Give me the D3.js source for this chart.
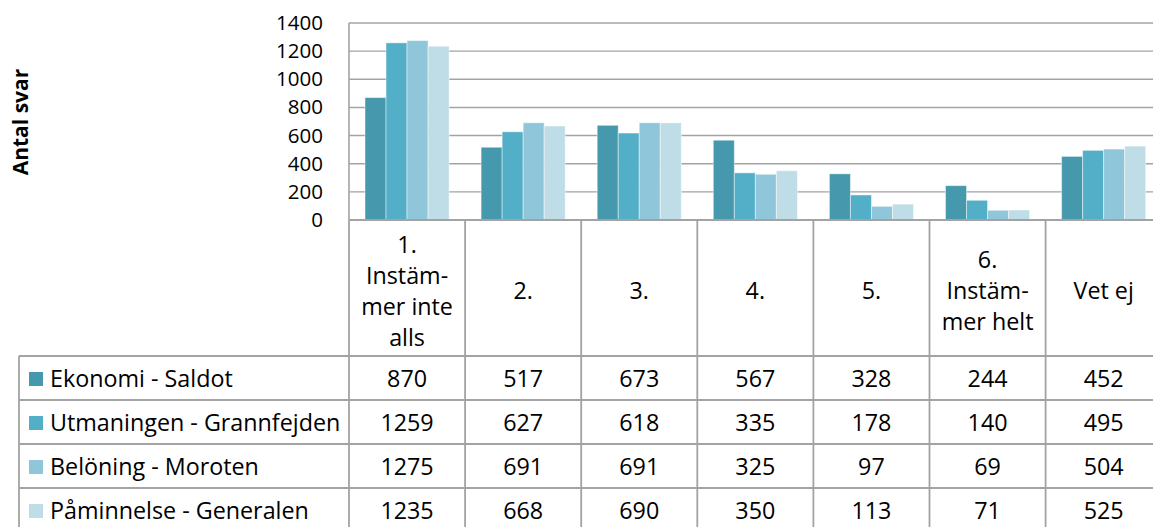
<!DOCTYPE html>
<html>
<head>
<meta charset="utf-8">
<script src="https://cdn.jsdelivr.net/npm/d3@7/dist/d3.min.js"></script>
<style>
  html, body { margin: 0; padding: 0; background: #fff; }
  svg { display: block; }
  text { font-family: "Open Sans", "Liberation Sans", sans-serif; fill: #000; }
</style>
</head>
<body>
<svg id="chart" width="1153" height="527"></svg>
<script>
// Answer categories (each entry is the wrapped label lines)
const categories = [
  ["1.", "Instäm-", "mer inte", "alls"],
  ["2."],
  ["3."],
  ["4."],
  ["5."],
  ["6.", "Instäm-", "mer helt"],
  ["Vet ej"]
];
const seriesNames = [
  "Ekonomi - Saldot",
  "Utmaningen - Grannfejden",
  "Belöning - Moroten",
  "Påminnelse - Generalen"
];
const ekonomiSaldot         = [870, 517, 673, 567, 328, 244, 452];
const utmaningenGrannfejden = [1259, 627, 618, 335, 178, 140, 495];
const beloningMoroten       = [1275, 691, 691, 325, 97, 69, 504];
const paminnelseGeneralen   = [1235, 668, 690, 350, 113, 71, 525];
const yTicks = [0, 200, 400, 600, 800, 1000, 1200, 1400];
const colors = ["#4698AC", "#53AFC7", "#8FC6D9", "#BFDDE7"];
const yTitle = "Antal svar";

const seriesValues = [ekonomiSaldot, utmaningenGrannfejden, beloningMoroten, paminnelseGeneralen];

const svg = d3.select("#chart");
const W = 1153;
const plotLeft = 349, colW = 116.1, plotTop = 23, plotBottom = 220;
const tableLeft = 19, headerBottom = 356, rowH = 44;
const gridColor = "#A3A3A3";
const fontSize = 23.3;
const tickFontSize = 20.5;

const x = d3.scaleBand().domain(d3.range(categories.length))
  .range([plotLeft, plotLeft + colW * categories.length]).padding(0);
const xInner = d3.scaleBand().domain(d3.range(seriesValues.length))
  .range([16, colW - 16]).padding(0);
const y = d3.scaleLinear().domain([0, 1400]).range([plotBottom, plotTop]);

// Horizontal gridlines
svg.append("g").selectAll("line").data(yTicks.filter(t => t > 0)).join("line")
  .attr("x1", plotLeft).attr("x2", W)
  .attr("y1", d => y(d)).attr("y2", d => y(d))
  .attr("stroke", gridColor).attr("stroke-width", 1.4);

// Bars
const barG = svg.append("g");
seriesValues.forEach((vals, si) => {
  barG.append("g").selectAll("rect").data(vals).join("rect")
    .attr("x", (d, i) => x(i) + xInner(si))
    .attr("width", xInner.bandwidth())
    .attr("y", d => y(d))
    .attr("height", d => y(0) - y(d))
    .attr("fill", colors[si])
    .attr("stroke", "rgba(255,255,255,0.45)")
    .attr("stroke-width", 1);
});

// Y axis labels
const yAxis = d3.axisLeft(y).tickValues(yTicks).tickFormat(d3.format("d"))
  .tickSize(0).tickPadding(26);
const yg = svg.append("g").attr("transform", `translate(${plotLeft},0)`).call(yAxis);
yg.select(".domain").remove();
yg.selectAll("text").attr("font-size", tickFontSize)
  .attr("font-family", "'Open Sans', 'Liberation Sans', sans-serif").attr("fill", "#000");

// Vertical axis line
svg.append("line").attr("x1", plotLeft).attr("x2", plotLeft)
  .attr("y1", plotTop).attr("y2", plotBottom)
  .attr("stroke", gridColor).attr("stroke-width", 1.6);

// Y axis title
svg.append("text")
  .attr("transform", `translate(28,122) rotate(-90)`)
  .attr("text-anchor", "middle")
  .attr("font-size", 21).attr("font-weight", "bold")
  .text(yTitle);

// Data table grid
const tg = svg.append("g").attr("stroke", gridColor).attr("stroke-width", 1.8);
// Axis baseline / header top
tg.append("line").attr("x1", plotLeft).attr("x2", W).attr("y1", plotBottom).attr("y2", plotBottom);
// Row separators
const rowLines = d3.range(seriesValues.length + 1).map(i => headerBottom + i * rowH);
tg.selectAll("line.row").data(rowLines).join("line").attr("class", "row")
  .attr("x1", tableLeft).attr("x2", W).attr("y1", d => d).attr("y2", d => d);
// Column separators
const colEdges = d3.range(categories.length + 1).map(i => plotLeft + i * colW);
tg.selectAll("line.col").data(colEdges).join("line").attr("class", "col")
  .attr("x1", d => d).attr("x2", d => d).attr("y1", plotBottom).attr("y2", 527);
tg.append("line").attr("x1", tableLeft).attr("x2", tableLeft).attr("y1", headerBottom).attr("y2", 527);

// Category header labels
const lineStep = 31;
const headerMid = (plotBottom + headerBottom) / 2 + 3;
categories.forEach((lines, i) => {
  const t = svg.append("text")
    .attr("text-anchor", "middle")
    .attr("font-size", fontSize);
  const startY = headerMid - (lines.length - 1) * lineStep / 2;
  lines.forEach((ln, j) => {
    t.append("tspan")
      .attr("x", x(i) + colW / 2)
      .attr("y", startY + j * lineStep)
      .attr("dy", "0.35em")
      .text(ln);
  });
});

// Series rows: legend key, name and values
seriesValues.forEach((vals, si) => {
  const cy = headerBottom + si * rowH + rowH / 2 + 1;
  svg.append("rect")
    .attr("x", 29).attr("y", cy - 7).attr("width", 14).attr("height", 14)
    .attr("fill", colors[si]);
  svg.append("text")
    .attr("x", 50).attr("y", cy).attr("dy", "0.35em")
    .attr("font-size", fontSize)
    .text(seriesNames[si]);
  svg.append("g").selectAll("text").data(vals).join("text")
    .attr("x", (d, i) => x(i) + colW / 2)
    .attr("y", cy).attr("dy", "0.35em")
    .attr("text-anchor", "middle")
    .attr("font-size", fontSize)
    .text(d => d);
});
</script>
</body>
</html>
